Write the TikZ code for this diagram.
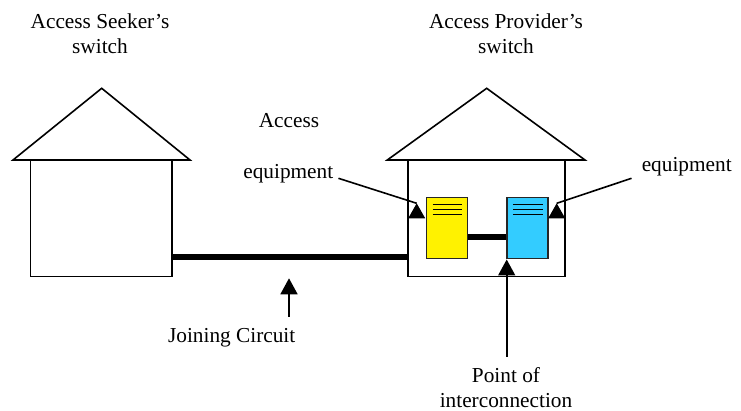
\documentclass[tikz,border=0pt]{standalone}
\usepackage{fontspec}
\setmainfont{Liberation Serif}
\usetikzlibrary{positioning,shapes,arrows.meta}
\tikzstyle{house} = [draw, rectangle, line width=1.6pt, minimum height=116.5pt, inner sep=0pt]
\tikzstyle{unit} = [draw=black!85, rectangle, line width=1.4pt, minimum width=41pt, minimum height=61pt, inner sep=0pt]
\tikzstyle{txt} = [align=center, inner sep=0pt, font=\fontsize{21.3}{25}\selectfont]
\tikzstyle{wire} = [line width=6pt]
\tikzstyle{pointer} = [line width=1.6pt, -{Triangle[width=17pt,length=16pt]}]
\newcommand{\uphead}[1]{\fill (#1) -- ++(-8.5,15) -- ++(17,0) -- cycle;}

\begin{document}
\begin{tikzpicture}[x=1pt,y=-1pt]
		\useasboundingbox (0,0) rectangle (741,411);
		% the two switches
		\node (seeker) [house, minimum width=141.3pt] at (101.3,218.3) {};
		\node (provider) [house, minimum width=157pt] at (486.5,218.3) {};
		\draw [line width=1.6pt, line join=miter] (13,160) -- (101.7,88.3) -- (190,160) -- cycle;
		\draw [line width=1.6pt, line join=miter] (387.3,160) -- (486.7,88.3) -- (585,160) -- cycle;
		
		\node (seekerlbl) [txt] at (100,34) {Access Seeker's\\switch};
		\node (providerlbl) [txt] at (506,34) {Access Provider's\\switch};
		
		% equipment in the provider's switch
		\node (yellowbox) [unit, fill=yellow] at (447.2,227.8) {};
		\node (bluebox) [unit, fill={rgb,255:red,51;green,204;blue,255}, right=38pt of yellowbox] {};
		\foreach \b in {yellowbox,bluebox}
			\foreach \d in {8,13,18}
				\draw [line width=1.6pt] ([xshift=6.5pt,yshift=-\d pt]\b.north west) -- ([xshift=-6pt,yshift=-\d pt]\b.north east);
		
		\draw [wire] (yellowbox.east |- 0,237.5) -- (bluebox.west |- 0,237.5);
		\draw [wire] (seeker.east |- 0,257.3) -- (provider.west |- 0,257.3);
		
		% labels and pointers
		\node (acclbl) [txt] at (289,121) {Access};
		\node (eqleft) [txt] at (288.3,173.3) {equipment};
		\node (eqright) [txt] at (686.7,166.7) {equipment};
		\coordinate (tipL) at (416.7,203.3);
		\coordinate (tipR) at (556.7,203.3);
		\draw [line width=1.6pt] (eqleft.east) ++(5,5) -- (tipL);
		\draw [line width=1.6pt] (eqright.west) ++(-10,11.6) -- (tipR);
		\uphead{tipL}
		\uphead{tipR}
		
		\node (joinlbl) [txt] at (231.7,338) {Joining Circuit};
		\coordinate (jfoot) at (289,317);
		\coordinate (jtip) at (289,278.3);
		\draw [pointer] (jfoot) -- (jtip);
		
		\node (poilbl) [txt] at (506,387.5) {Point of\\interconnection};
		\coordinate (pfoot) at (506.7,356.7);
		\coordinate (ptip) at (506.7,259.5);
		\draw [pointer] (pfoot) -- (ptip);
	\end{tikzpicture}
\end{document}
